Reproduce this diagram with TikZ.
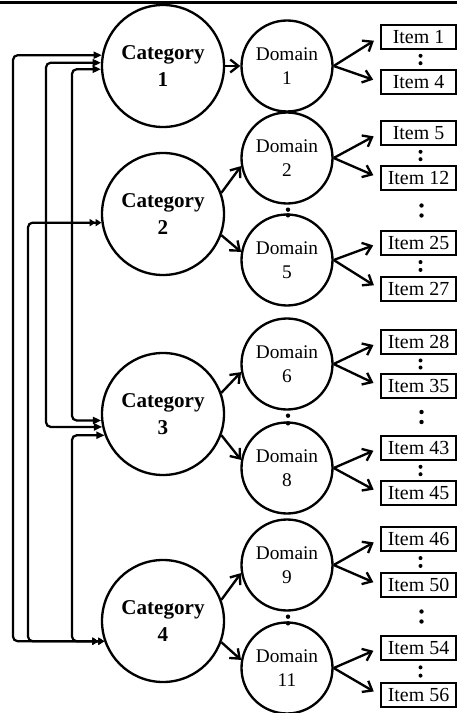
\documentclass[tikz,border=0pt]{standalone}
\usepackage{fontspec}
\setmainfont{Liberation Serif}
\usetikzlibrary{arrows.meta,calc}

\tikzset{
  catin/.tip={Triangle[length=7pt,width=6pt]},
  catinn/.tip={Triangle[length=5pt,width=6pt]Triangle[length=5pt,width=6pt]},
  cat/.style={circle,draw,line width=2pt,minimum size=3.66cm,inner sep=0pt,
    align=center,font=\fontsize{18}{23}\selectfont\bfseries},
  dom/.style={circle,draw,line width=2pt,minimum size=2.73cm,inner sep=0pt,
    align=center,font=\fontsize{16.5}{20.5}\selectfont},
  item/.style={draw,line width=2pt,minimum width=2.25cm,minimum height=0.72cm,
    inner sep=0pt,font=\fontsize{17}{18}\selectfont},
  flow/.style={line width=2pt,-{Straight Barb[length=7pt,width=11pt]}},
  link/.style={line width=1.9pt,rounded corners=4pt},
}

\begin{document}
\begin{tikzpicture}[x=0.03cm,y=-0.03cm]
  \useasboundingbox (0,0) rectangle (457,713);
  \draw[line width=2.2pt] (0,2.5) -- (457,2.5);

  % --- categories ---
  \node[cat] (c1) at (163,66) {Category\\1};
  \node[cat] (c2) at (163,214) {Category\\2};
  \node[cat] (c3) at (163,414) {Category\\3};
  \node[cat] (c4) at (163,621) {Category\\4};

  % --- domains ---
  \node[dom] (d1) at (287,66) {Domain\\1};
  \node[dom] (d2) at (287,158) {Domain\\2};
  \node[dom] (d5) at (287,260) {Domain\\5};
  \node[dom] (d6) at (287,364) {Domain\\6};
  \node[dom] (d8) at (287,468) {Domain\\8};
  \node[dom] (d9) at (287,565) {Domain\\9};
  \node[dom] (d11) at (287,668) {Domain\\11};

  % --- items ---
  \node[item] (i1) at (418.5,37) {Item 1};
  \node[item] (i4) at (418.5,82) {Item 4};
  \node[item] (i5) at (418.5,133) {Item 5};
  \node[item] (i12) at (418.5,178) {Item 12};
  \node[item] (i25) at (418.5,243) {Item 25};
  \node[item] (i27) at (418.5,289) {Item 27};
  \node[item] (i28) at (418.5,342) {Item 28};
  \node[item] (i35) at (418.5,386) {Item 35};
  \node[item] (i43) at (418.5,448) {Item 43};
  \node[item] (i45) at (418.5,493) {Item 45};
  \node[item] (i46) at (418.5,539) {Item 46};
  \node[item] (i50) at (418.5,585) {Item 50};
  \node[item] (i54) at (418.5,648) {Item 54};
  \node[item] (i56) at (418.5,695) {Item 56};

  % --- dots ---
  \foreach \a/\b in {i1/i4,i5/i12,i25/i27,i28/i35,i43/i45,i46/i50,i54/i56}{
    \fill ($(\a.south)!0.3!(\b.north)+(2,0)$) circle (2);
    \fill ($(\a.south)!0.7!(\b.north)+(2,0)$) circle (2);
  }
  \foreach \a/\b in {i12/i25,i35/i43,i50/i54}{
    \fill ($(\a.south)!0.5!(\b.north)+(3,-5)$) circle (2.2);
    \fill ($(\a.south)!0.5!(\b.north)+(3,5)$) circle (2.2);
  }
  \foreach \a/\b in {d2/d5,d6/d8,d9/d11}{
    \fill ($(\a.south)+(1,5)$) circle (2.2);
    \fill ($(\b.north)+(1,2)$) circle (2.2);
  }

  % --- category to domain ---
  \draw[flow] (c1) -- (d1);
  \foreach \c/\u/\l in {c2/d2/d5,c3/d6/d8,c4/d9/d11}{
    \draw[flow] (\c.20) -- (\u.190);
    \draw[flow] (\c.-20) -- (\l.170);
  }

  % --- domain to items ---
  \foreach \d/\u/\l in {d1/i1/i4,d2/i5/i12,d5/i25/i27,d6/i28/i35,d8/i43/i45,d9/i46/i50,d11/i54/i56}{
    \draw[flow,shorten >=6pt] (\d.east) -- (\u.west);
    \draw[flow,shorten >=6pt] (\d.east) -- (\l.west);
  }

  % --- links between categories ---
  \coordinate (l1) at (13,0);
  \coordinate (l2) at (28,0);
  \coordinate (l3) at (46,0);
  \coordinate (l4) at (72,0);
  \draw[link,catinn-catin] (c4.199) -- (c4.199 -| l1) -- (c1.170 -| l1) -- (c1.170);
  \draw[link,catinn-catinn] (c4.199) -- (c4.199 -| l2) -- (c2.188 -| l2) -- (c2.188);
  \draw[link,catin-catin] (c3.192) -- (c3.192 -| l3) -- (c1.177 -| l3) -- (c1.177);
  \draw[link,catin-catin] (c3.186) -- (c3.186 -| l4) -- (c1.183 -| l4) -- (c1.183);
  \draw[link,catinn-catin] (c4.199) -- (c4.199 -| l4) -- (c3.200 -| l4) -- (c3.200);
\end{tikzpicture}
\end{document}
